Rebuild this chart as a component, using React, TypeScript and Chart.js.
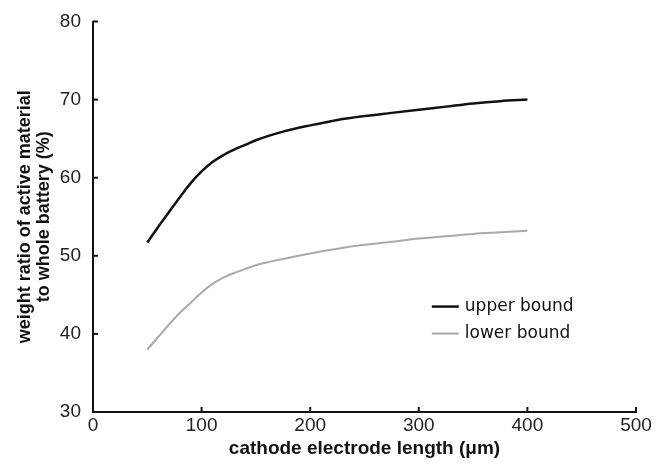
import React, { useEffect, useRef } from "react";
import { Chart, registerables } from "chart.js";

Chart.register(...registerables);

const lengths = [50, 60, 70, 80, 90, 100, 110, 120, 130, 140, 150, 175, 200, 225, 250, 275, 300, 325, 350, 375, 400];
const upperBound = [51.7, 53.7, 55.6, 57.5, 59.3, 60.8, 62.0, 62.9, 63.6, 64.2, 64.8, 65.9, 66.7, 67.4, 67.9, 68.3, 68.7, 69.1, 69.5, 69.8, 70.0];
const lowerBound = [38.0, 39.6, 41.2, 42.7, 44.0, 45.3, 46.4, 47.2, 47.8, 48.3, 48.8, 49.6, 50.3, 50.9, 51.4, 51.8, 52.2, 52.5, 52.8, 53.0, 53.2];
const seriesLabels = ["upper bound", "lower bound"];
const seriesColors = ["#111111", "#aaaaaa"];
const xTitle = "cathode electrode length (\u03bcm)";
const yTitle = ["weight ratio of active material", "to whole battery (%)"];

const FONT = "'Liberation Sans', Arial, Helvetica, sans-serif";

const inwardTicks = {
  id: "inwardTicks",
  afterDatasetsDraw(chart: any) {
    const { ctx, chartArea, scales } = chart;
    ctx.save();
    ctx.strokeStyle = "#111";
    ctx.lineWidth = 2;
    const xs = scales.x;
    xs.ticks.forEach((t: any) => {
      const px = xs.getPixelForValue(t.value);
      ctx.beginPath();
      ctx.moveTo(px, chartArea.bottom);
      ctx.lineTo(px, chartArea.bottom - 5);
      ctx.stroke();
    });
    const ys = scales.y;
    ys.ticks.forEach((t: any) => {
      const py = ys.getPixelForValue(t.value);
      ctx.beginPath();
      ctx.moveTo(chartArea.left, py);
      ctx.lineTo(chartArea.left + 5, py);
      ctx.stroke();
    });
    ctx.restore();
  },
};

const customLegend = {
  id: "customLegend",
  afterDraw(chart: any) {
    const { ctx } = chart;
    const xs = chart.scales.x;
    const ys = chart.scales.y;
    const x0 = xs.getPixelForValue(312);
    const y0 = ys.getPixelForValue(43.5);
    ctx.save();
    ctx.font = "17px 'DejaVu Sans', Verdana, sans-serif";
    ctx.textBaseline = "middle";
    chart.data.datasets.forEach((ds: any, i: number) => {
      const y = y0 + i * 27;
      ctx.strokeStyle = ds.borderColor;
      ctx.lineWidth = ds.borderWidth;
      ctx.beginPath();
      ctx.moveTo(x0, y);
      ctx.lineTo(x0 + 27, y);
      ctx.stroke();
      ctx.fillStyle = "#111";
      ctx.fillText(ds.label, x0 + 33, y);
    });
    ctx.restore();
  },
};

export default function App() {
  const ref = useRef<HTMLCanvasElement>(null);
  useEffect(() => {
    const chart = new Chart(ref.current!, {
      type: "line",
      data: {
        datasets: [
          {
            label: seriesLabels[0],
            data: lengths.map((x, i) => ({ x, y: upperBound[i] })),
            borderColor: seriesColors[0],
            borderWidth: 2.5,
            pointRadius: 0,
            cubicInterpolationMode: "monotone",
          },
          {
            label: seriesLabels[1],
            data: lengths.map((x, i) => ({ x, y: lowerBound[i] })),
            borderColor: seriesColors[1],
            borderWidth: 2,
            pointRadius: 0,
            cubicInterpolationMode: "monotone",
          },
        ],
      },
      options: {
        animation: false,
        responsive: false,
        maintainAspectRatio: false,
        layout: { padding: { left: 0, top: 20, right: 20, bottom: 0 } },
        plugins: { legend: { display: false }, tooltip: { enabled: false } },
        scales: {
          x: {
            type: "linear",
            min: 0,
            max: 500,
            afterFit: (s: any) => { s.height = 52; },
            grid: { display: false, drawTicks: false },
            border: { display: true, color: "#111", width: 2 },
            ticks: { stepSize: 100, padding: 4, maxRotation: 0, color: "#222", font: { family: FONT, size: 19, lineHeight: 1.0 } },
            title: { display: true, text: xTitle, color: "#111", font: { family: FONT, size: 19, weight: "bold" }, padding: { top: 0, bottom: 4 } },
          },
          y: {
            type: "linear",
            min: 30,
            max: 80,
            afterFit: (s: any) => { s.width = 93; },
            grid: { display: false, drawTicks: false },
            border: { display: true, color: "#111", width: 2 },
            ticks: { stepSize: 10, padding: 12, color: "#222", font: { family: FONT, size: 19, lineHeight: 1.0 } },
            title: { display: true, text: yTitle, color: "#111", font: { family: FONT, size: 18, weight: "bold", lineHeight: 1.08 }, padding: { top: 15, bottom: 0 } },
          },
        },
      },
      plugins: [inwardTicks, customLegend],
    });
    return () => chart.destroy();
  }, []);
  return (
    <div style={{ position: "fixed", left: 0, top: 0, width: 656, height: 464, background: "#fff" }}>
      <canvas ref={ref} width={656} height={464} style={{ display: "block" }} />
    </div>
  );
}
